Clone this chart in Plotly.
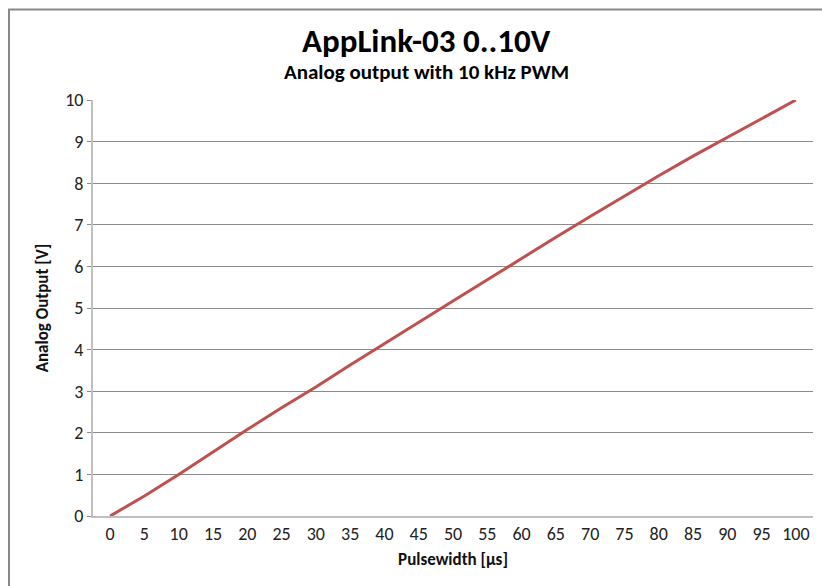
import plotly.graph_objects as go

pulsewidth = [0, 5, 10, 15, 20, 25, 30, 35, 40, 45, 50, 55, 60, 65, 70, 75, 80, 85, 90, 95, 100]
output_v = [0.0, 0.48, 1.0, 1.55, 2.08, 2.6, 3.1, 3.63, 4.15, 4.65, 5.17, 5.68, 6.2, 6.7, 7.2, 7.7, 8.18, 8.65, 9.1, 9.55, 10.0]
x_labels = [str(v) for v in pulsewidth]

W, H = 822, 586
L, T = 93, 100
R = W - 813
B = H - 516
FONT = "Carlito, Liberation Sans Narrow, Open Sans, sans-serif"

fig = go.Figure()
fig.add_trace(go.Scatter(
    x=x_labels, y=output_v, mode="lines",
    line=dict(color="#C0504D", width=3), showlegend=False,
))

PW, PH = W - L - R, H - T - B

def px(x):
    return (x - L) / PW

def py(y):
    return 1 + (T - y) / PH

fig.update_layout(
    width=W, height=H,
    margin=dict(l=L, r=R, t=T, b=B),
    paper_bgcolor="white", plot_bgcolor="white",
    font=dict(family=FONT, size=18, color="#222"),
    xaxis=dict(
        type="category", range=[-0.5, 20.5],
        showgrid=False, showline=True, linecolor="#bfbfbf", linewidth=2,
        ticks="", tickfont=dict(size=18, color="#222"),
        title=dict(text="<b>Pulsewidth [µs]</b>", font=dict(size=17, color="#111"), standoff=10),
    ),
    yaxis=dict(
        range=[0, 10], dtick=1,
        showgrid=True, gridcolor="#8c8c8c", gridwidth=1,
        showline=True, linecolor="#bfbfbf", linewidth=2,
        ticks="outside", ticklen=4, tickcolor="#8c8c8c",
        tickfont=dict(size=18, color="#222"), zeroline=False,
        title=dict(text="<b>Analog Output [V]</b>", font=dict(size=17, color="#111"), standoff=12),
    ),
    annotations=[
        dict(text="<b>AppLink-03 0..10V</b>", xref="paper", yref="paper",
             x=px(426), y=py(41), xanchor="center", yanchor="middle",
             showarrow=False, font=dict(size=33, color="#000", family=FONT)),
        dict(text="<b>Analog output with 10 kHz PWM</b>", xref="paper", yref="paper",
             x=px(426), y=py(72), xanchor="center", yanchor="middle",
             showarrow=False, font=dict(size=21, color="#000", family=FONT)),
    ],
    shapes=[
        dict(type="line", xref="paper", yref="paper",
             x0=px(8), x1=px(822), y0=py(9.5), y1=py(9.5),
             line=dict(color="#888888", width=2)),
        dict(type="line", xref="paper", yref="paper",
             x0=px(9), x1=px(9), y0=py(9.5), y1=py(586),
             line=dict(color="#888888", width=2)),
    ],
)

fig.write_html(
    "out.html",
    config={"displayModeBar": False},
    post_script="document.body.style.margin='0';document.body.style.overflow='hidden';",
)
